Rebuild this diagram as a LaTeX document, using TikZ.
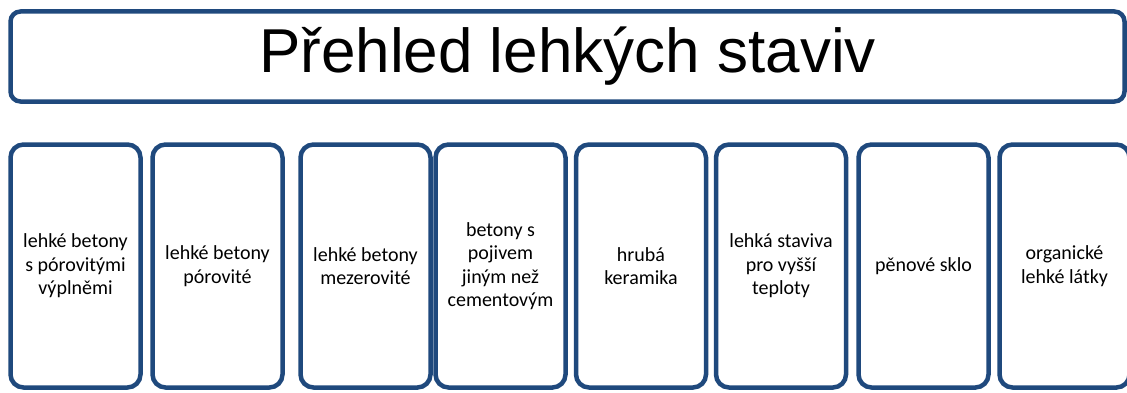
\documentclass[tikz,border=0pt]{standalone}
\usepackage{fontspec}
\setmainfont{Carlito}
\newfontfamily\nadpisfont{Liberation Sans}
\usepackage{tikz}
\usetikzlibrary{positioning}
\definecolor{tmodra}{RGB}{31,73,125}

\begin{document}
\begin{tikzpicture}[x=1pt,y=1pt,
    nadpis/.style={draw=tmodra, line width=4.5pt, rounded corners=10pt, fill=white,
        minimum width=1114pt, minimum height=90pt, inner sep=0pt,
        font=\nadpisfont\fontsize{62}{70}\selectfont},
    skupina/.style={draw=tmodra, line width=4.5pt, rounded corners=13pt, fill=white,
        minimum width=130pt, minimum height=243pt, inner sep=0pt,
        align=center, font=\fontsize{20}{23.5}\selectfont}]
        \useasboundingbox (0,0) rectangle (1127,392);
        \clip (0,0) rectangle (1127,392);
        \node[nadpis] (prehled) at (567.5,335.5) {Přehled lehkých staviv};

        \node[skupina] (porvypln) at (75.5,126) {lehké betony\\s pórovitými\\výplněmi};
        \node[skupina] (porovite) at (217.5,126) {lehké betony\\pórovité};
        \node[skupina] (mezerovite) at (365.5,126) {lehké betony\\mezerovité};
        \node[skupina] (pojivo) at (500.5,126) {betony s\\pojivem\\jiným než\\cementovým};
        \node[skupina] (keramika) at (641,126) {hrubá\\keramika};
        \node[skupina] (teploty) at (781,126) {lehká staviva\\pro vyšší\\teploty};
        \node[skupina] (sklo) at (923.5,126) {pěnové sklo};
        \node[skupina] (organicke) at (1064.5,126) {organické\\lehké látky};
      \end{tikzpicture}
\end{document}
